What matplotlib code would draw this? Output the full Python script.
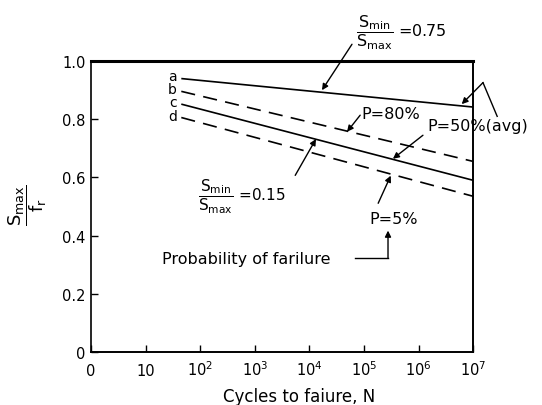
import numpy as np
import matplotlib
matplotlib.use("Agg")
import matplotlib.pyplot as plt

# S-N lines for concrete fatigue (ratio S_max/f_r vs cycles to failure)
line_labels = ["a", "b", "c", "d"]
n_start = 45.0
n_end = 1e7
ratio_start = [0.940, 0.896, 0.852, 0.806]
ratio_end = [0.842, 0.655, 0.590, 0.535]
line_styles = ["solid", "dashed", "solid", "dashed"]

x_tick_values = [1, 10, 1e2, 1e3, 1e4, 1e5, 1e6, 1e7]
x_tick_labels = ["0", "10", r"$10^2$", r"$10^3$", r"$10^4$", r"$10^5$", r"$10^6$", r"$10^7$"]
y_tick_values = [0, 0.2, 0.4, 0.6, 0.8, 1.0]
y_tick_labels = ["0", "0.2", "0.4", "0.6", "0.8", "1.0"]

plt.rcParams["font.family"] = "DejaVu Sans"
plt.rcParams["mathtext.fontset"] = "dejavusans"
plt.rcParams["mathtext.default"] = "regular"

fig = plt.figure(figsize=(5.42, 4.06), dpi=100)
ax = fig.add_axes([0.168, 0.131, 0.705, 0.716])

ax.set_xscale("log")
ax.set_xlim(1, 1e7)
ax.set_ylim(0, 1.0)

for y0, y1, ls in zip(ratio_start, ratio_end, line_styles):
    style = "-" if ls == "solid" else (0, (8.5, 5))
    ax.plot([n_start, n_end], [y0, y1], color="black", lw=1.2, linestyle=style,
            solid_capstyle="butt")

# stacked curve letters beside the line starts
label_center = (ratio_start[0] + ratio_start[-1]) / 2 + 0.008
ax.text(10 ** 1.57, label_center, "\n".join(line_labels), ha="right", va="center",
        multialignment="right", fontsize=10, linespacing=0.95)

ax.set_xticks(x_tick_values)
ax.set_xticklabels(x_tick_labels, fontsize=10.5)
ax.xaxis.set_minor_locator(matplotlib.ticker.NullLocator())
ax.set_yticks(y_tick_values)
ax.set_yticklabels(y_tick_labels, fontsize=10.5)
ax.tick_params(axis="x", direction="in", length=5, width=1, pad=17)
ax.tick_params(axis="y", direction="in", length=5, width=1, pad=4)
for tick in ax.xaxis.get_major_ticks():
    tick.label1.set_verticalalignment("baseline")

ax.spines["top"].set_linewidth(2.2)
ax.spines["right"].set_linewidth(1.4)
ax.spines["left"].set_linewidth(1.2)
ax.spines["bottom"].set_linewidth(1.4)

arrow = dict(arrowstyle="-|>", lw=1.0, color="black", mutation_scale=9,
             shrinkA=0, shrinkB=0)

def pointer(x0, y0, x1, y1):
    ax.annotate("", xy=(x1, y1), xytext=(x0, y0), xycoords="data",
                textcoords="data", arrowprops=arrow, annotation_clip=False)

# S_min/S_max = 0.75 label (line a)
ax.text(10 ** 5.68, 1.10, r"$\dfrac{S_{min}}{S_{max}}$ =0.75",
        ha="center", va="center", fontsize=11.5, clip_on=False)
pointer(10 ** 4.78, 1.058, 10 ** 4.23, 0.90)

# bracket pointer at the right end of line a
ax.plot([10 ** 7.44, 10 ** 7.18], [0.81, 0.926], color="black", lw=1.0, clip_on=False)
pointer(10 ** 7.18, 0.926, 10 ** 6.79, 0.852)

# probability labels
ax.text(10 ** 4.96, 0.821, "P=80%", ha="left", va="center", fontsize=11.5)
pointer(10 ** 4.93, 0.814, 10 ** 4.69, 0.757)

ax.text(10 ** 6.17, 0.78, "P=50%(avg)", ha="left", va="center", fontsize=11.5,
        clip_on=False)
pointer(10 ** 6.08, 0.745, 10 ** 5.53, 0.664)

ax.text(10 ** 2.77, 0.535, r"$\dfrac{S_{min}}{S_{max}}$ =0.15",
        ha="center", va="center", fontsize=11)
pointer(10 ** 3.74, 0.607, 10 ** 4.12, 0.732)

ax.text(10 ** 5.09, 0.459, "P=5%", ha="left", va="center", fontsize=11.5)
pointer(10 ** 5.26, 0.511, 10 ** 5.49, 0.606)

ax.text(10 ** 1.30, 0.322, "Probability of farilure", ha="left", va="center",
        fontsize=11.5)
ax.plot([10 ** 4.84, 10 ** 5.44], [0.322, 0.322], color="black", lw=1.0)
pointer(10 ** 5.44, 0.322, 10 ** 5.44, 0.417)

# axis titles
fig.text(28 / 542, 1 - 205 / 406, r"$\dfrac{S_{max}}{f_{r}}$",
         rotation=90, ha="center", va="center", fontsize=13)
fig.text(299 / 542, 1 - 397 / 406, "Cycles to faiure, N", ha="center",
         va="center", fontsize=12)

fig.savefig("out.png", dpi=100)
